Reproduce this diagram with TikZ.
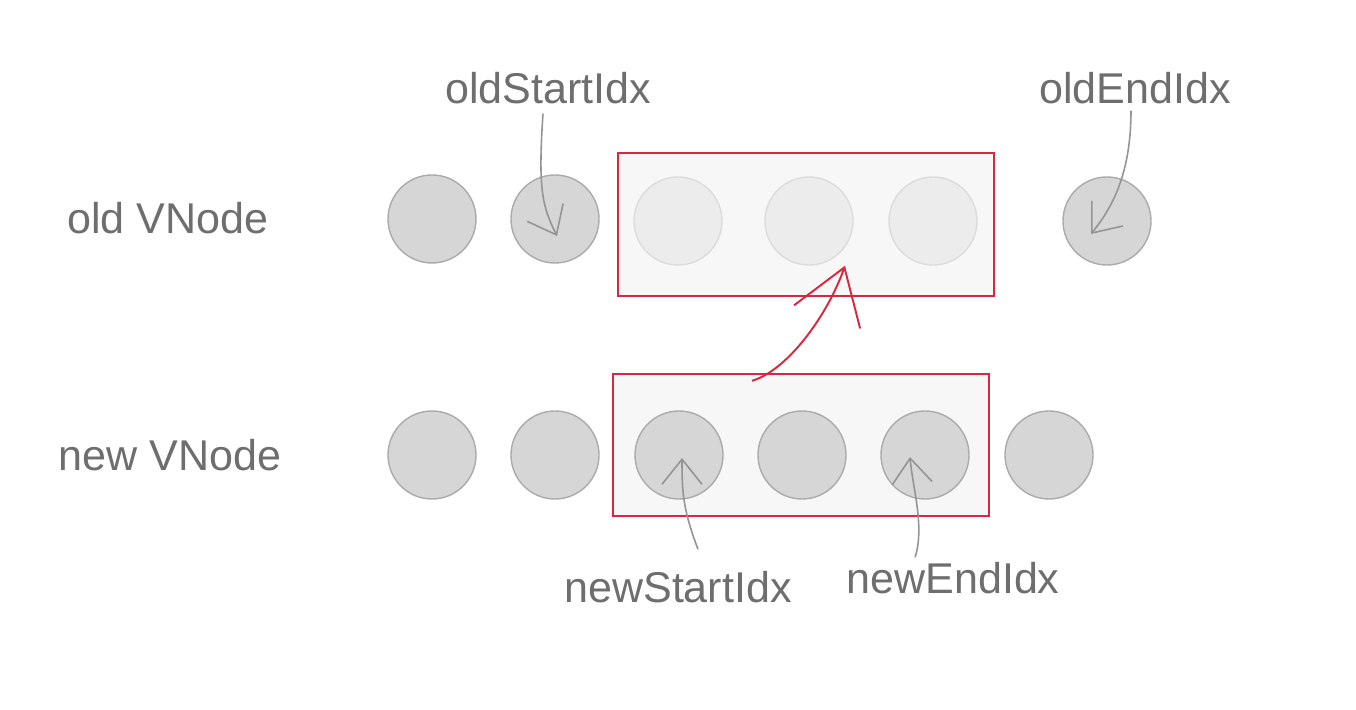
\documentclass[tikz,border=0pt]{standalone}
\usepackage{fontspec}
\setmainfont{Liberation Sans}
\usetikzlibrary{arrows.meta}
\definecolor{vgray}{HTML}{D6D6D6}
\definecolor{vline}{HTML}{ABABAB}
\definecolor{vfade}{HTML}{ECECEC}
\definecolor{vfadeline}{HTML}{DCDCDC}
\definecolor{boxred}{HTML}{D9283E}
\definecolor{txtgray}{HTML}{6E6E6E}

\begin{document}
\begin{tikzpicture}[
    vnode/.style={circle, draw=vline, fill=vgray, line width=0.8pt, minimum size=1.76cm, inner sep=0},
    vfaded/.style={vnode, draw=vfadeline, fill=vfade},
    lbl/.style={text=txtgray, font=\fontsize{24.5}{28}\selectfont, inner sep=0},
    box/.style={draw=boxred, fill=black!3, line width=1.1pt, minimum width=7.52cm, minimum height=2.85cm, inner sep=0},
    hand/.style={draw=black!42, line width=0.9pt, -{Straight Barb[length=0.5cm,width=0.8cm]}},
    redhand/.style={draw=boxred, line width=1.1pt, -{Straight Barb[length=1.05cm,width=1.4cm]}}
  ]
    \useasboundingbox[fill=white] (0,0) rectangle (27.12,14.2);
    % boxes
    \node[box] (obox) at (16.12,9.71) {};
    \node[box] (nbox) at (16.02,5.30) {};
    % old vnodes
    \node[vnode] (o1) at (8.64,9.82) {};
    \node[vnode] (o2) at (11.10,9.82) {};
    \node[vfaded] (o3) at (13.56,9.78) {};
    \node[vfaded] (o4) at (16.18,9.78) {};
    \node[vfaded] (o5) at (18.66,9.78) {};
    \node[vnode] (o6) at (22.14,9.78) {};
    % new vnodes
    \node[vnode] (n1) at (8.64,5.10) {};
    \node[vnode] (n2) at (11.10,5.10) {};
    \node[vnode] (n3) at (13.58,5.10) {};
    \node[vnode] (n4) at (16.04,5.10) {};
    \node[vnode] (n5) at (18.50,5.10) {};
    \node[vnode] (n6) at (20.98,5.10) {};
    % labels
    \node[lbl] (oldrow) at (3.36,9.84) {old VNode};
    \node[lbl] (newrow) at (3.40,5.10) {new VNode};
    \node[lbl] (oldstart) at (10.96,12.44) {oldStartIdx};
    \node[lbl] (oldend) at (22.70,12.44) {oldEndIdx};
    \node[lbl] (newstart) at (13.56,2.46) {newStartIdx};
    \node[lbl] (newend) at (19.06,2.64) {newEndIdx};
    % pointer tips
    \coordinate (ostip) at ([shift={(0.04,-0.34)}]o2.center);
    \coordinate (oetip) at ([shift={(-0.32,-0.26)}]o6.center);
    \coordinate (nstip) at ([shift={(0.06,-0.06)}]n3.center);
    \coordinate (netip) at ([shift={(-0.30,-0.04)}]n5.center);
    \coordinate (movefrom) at ([shift={(-0.98,-0.16)}]nbox.north);
    \coordinate (moveto) at ([shift={(0.78,0.62)}]obox.south);
    % pointers
    \draw[hand] ([shift={(-0.10,-0.19)}]oldstart.south) .. controls +(-0.1,-1.5) and +(-0.3,0.6) .. (ostip);
    \draw[hand] ([shift={(-0.08,-0.13)}]oldend.south) .. controls +(0,-1.3) and +(0.4,0.5) .. (oetip);
    \draw[hand] ([shift={(0.40,0.43)}]newstart.north) .. controls +(-0.3,0.8) and +(0,-0.7) .. (nstip);
    \draw[hand] ([shift={(-0.76,0.09)}]newend.north) .. controls +(0.2,0.6) and +(0.05,-0.6) .. (netip);
    % move
    \draw[redhand] (movefrom) .. controls +(0.7,0.2) and +(-0.35,-1.0) .. (moveto);
\end{tikzpicture}
\end{document}
